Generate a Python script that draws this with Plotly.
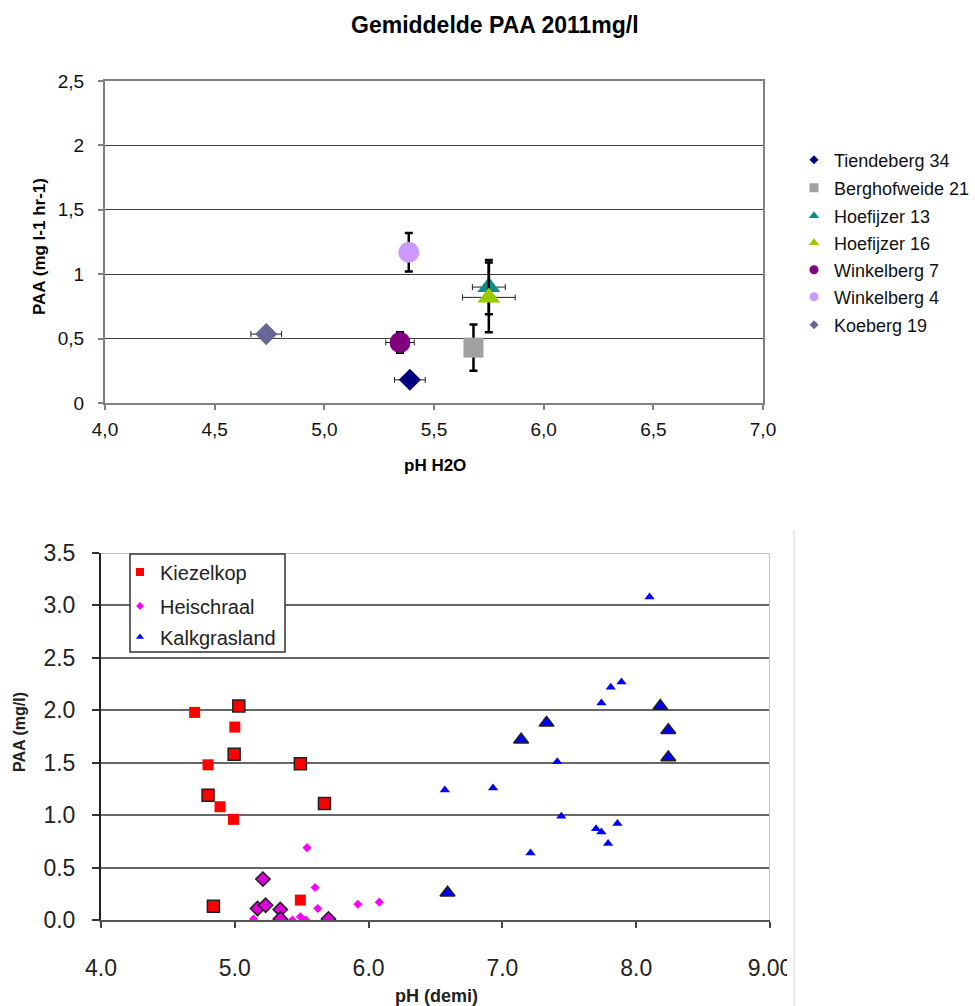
import plotly.graph_objects as go

W, H = 975, 1006

# ---------------- Top chart data: Gemiddelde PAA 2011 ----------------
sites = ["Tiendeberg 34", "Berghofweide 21", "Hoefijzer 13", "Hoefijzer 16",
         "Winkelberg 7", "Winkelberg 4", "Koeberg 19"]
ph_h2o = [5.39, 5.68, 5.75, 5.75, 5.345, 5.385, 4.735]
ph_h2o_err = [0.07, 0.02, 0.075, 0.12, 0.065, 0.02, 0.07]
paa_mean = [0.18, 0.43, 0.90, 0.82, 0.47, 1.17, 0.535]
paa_err = [0.03, 0.18, 0.21, 0.27, 0.08, 0.15, 0.02]

top_x_ticks = [4.0, 4.5, 5.0, 5.5, 6.0, 6.5, 7.0]
top_x_labels = ["4,0", "4,5", "5,0", "5,5", "6,0", "6,5", "7,0"]
top_y_ticks = [0, 0.5, 1.0, 1.5, 2.0, 2.5]
top_y_labels = ["0", "0,5", "1", "1,5", "2", "2,5"]

# ---------------- Bottom chart data: PAA vs pH (demi) ----------------
kiezelkop_x = [4.70, 5.00, 4.80, 4.89, 4.99, 5.49]
kiezelkop_y = [1.98, 1.84, 1.48, 1.08, 0.96, 0.19]
kiezelkop_outlined_x = [5.03, 4.995, 5.49, 4.80, 5.67, 4.84]
kiezelkop_outlined_y = [2.04, 1.58, 1.49, 1.19, 1.11, 0.13]

heischraal_x = [5.54, 5.60, 5.62, 5.92, 6.08, 5.14, 5.43, 5.49, 5.53]
heischraal_y = [0.69, 0.31, 0.11, 0.15, 0.17, 0.01, 0.00, 0.03, 0.00]
heischraal_outlined_x = [5.21, 5.17, 5.23, 5.34, 5.34, 5.70]
heischraal_outlined_y = [0.39, 0.11, 0.14, 0.10, 0.01, 0.01]

kalkgrasland_x = [8.10, 7.81, 7.89, 7.74, 7.41, 6.57, 6.93, 7.44, 7.70, 7.74, 7.86, 7.79, 7.21]
kalkgrasland_y = [3.08, 2.22, 2.27, 2.07, 1.51, 1.24, 1.26, 0.99, 0.87, 0.84, 0.92, 0.73, 0.64]
kalkgrasland_outlined_x = [8.18, 7.33, 7.14, 8.24, 8.24, 6.59]
kalkgrasland_outlined_y = [2.04, 1.88, 1.72, 1.81, 1.55, 0.26]

bot_x_ticks = [4, 5, 6, 7, 8, 9]
bot_x_labels = ["4.0", "5.0", "6.0", "7.0", "8.0", "9.00"]
bot_y_ticks = [0, 0.5, 1.0, 1.5, 2.0, 2.5, 3.0, 3.5]
bot_y_labels = ["0.0", "0.5", "1.0", "1.5", "2.0", "2.5", "3.0", "3.5"]

# ---------------- styling ----------------
FONT = "Liberation Sans, Arial, sans-serif"
site_colors = ["#000080", "#a0a0a0", "#0f8a8a", "#99cc00", "#800080", "#cc99ff", "#666699"]
site_symbols = ["diamond", "square", "triangle-up", "triangle-up", "circle", "circle", "diamond"]
site_sizes = [17, 20, 20, 20, 21, 21, 17]
legend_sizes = [7, 9, 9, 9, 9, 9, 7]
legend_rows_px = [160, 188, 216, 243, 270, 297, 325]


def px_x(p):
    return p / W


def px_y(p):
    return 1 - p / H


fig = go.Figure()
layout_legends = {}

for i, name in enumerate(sites):
    fig.add_trace(go.Scatter(
        x=[ph_h2o[i]], y=[paa_mean[i]], mode="markers", name=name,
        xaxis="x", yaxis="y", showlegend=False,
        marker=dict(symbol=site_symbols[i], size=site_sizes[i], color=site_colors[i],
                    line=dict(width=0)),
        error_y=dict(type="data", array=[paa_err[i]], color="#000000",
                     thickness=2.5, width=4),
        error_x=dict(type="data", array=[ph_h2o_err[i]], color="#202020",
                     thickness=1, width=3),
    ))
    key = "legend" if i == 0 else f"legend{i + 1}"
    fig.add_trace(go.Scatter(
        x=[None], y=[None], mode="markers", name=name, xaxis="x", yaxis="y",
        legend=key, showlegend=True,
        marker=dict(symbol=site_symbols[i], size=legend_sizes[i], color=site_colors[i]),
    ))
    layout_legends[key] = dict(
        x=px_x(794), xanchor="left", y=px_y(legend_rows_px[i]), yanchor="middle",
        font=dict(family=FONT, size=18, color="#111111"),
        bgcolor="rgba(0,0,0,0)", borderwidth=0, itemsizing="trace",
    )

# bottom chart
bottom_series = [
    ("Kiezelkop", kiezelkop_x, kiezelkop_y, kiezelkop_outlined_x, kiezelkop_outlined_y,
     "square", "#ff0000", "#ff0000", 11, 12, 8),
    ("Heischraal", heischraal_x, heischraal_y, heischraal_outlined_x, heischraal_outlined_y,
     "diamond", "#ff00ff", "#dd00dd", 7, 11, 6),
    ("Kalkgrasland", kalkgrasland_x, kalkgrasland_y, kalkgrasland_outlined_x, kalkgrasland_outlined_y,
     "triangle-up", "#0000ff", "#0000ff", 9, 13, 7),
]
bot_legend_rows_px = [572, 606, 637]
for j, (name, xs, ys, oxs, oys, sym, col, ocol, s_plain, s_out, s_leg) in enumerate(bottom_series):
    fig.add_trace(go.Scatter(
        x=oxs, y=oys, mode="markers", name=name, xaxis="x2", yaxis="y2", showlegend=False,
        marker=dict(symbol=sym, size=s_out, color=ocol, line=dict(width=1.5, color="#202020")),
    ))
    fig.add_trace(go.Scatter(
        x=xs, y=ys, mode="markers", name=name, xaxis="x2", yaxis="y2", showlegend=False,
        marker=dict(symbol=sym, size=s_plain, color=col, line=dict(width=0)),
    ))
    key = f"legend{8 + j}"
    fig.add_trace(go.Scatter(
        x=[None], y=[None], mode="markers", name=name, xaxis="x2", yaxis="y2",
        legend=key, showlegend=True,
        marker=dict(symbol=sym, size=s_leg, color=col),
    ))
    layout_legends[key] = dict(
        x=px_x(120), xanchor="left", y=px_y(bot_legend_rows_px[j]), yanchor="middle",
        font=dict(family=FONT, size=20, color="#222222"),
        bgcolor="rgba(0,0,0,0)", borderwidth=0, itemsizing="trace",
    )

fig.update_layout(
    width=W, height=H,
    margin=dict(l=0, r=0, t=0, b=0, pad=0, autoexpand=False),
    paper_bgcolor="white", plot_bgcolor="white",
    showlegend=True,
    font=dict(family=FONT, color="#111111"),
    xaxis=dict(
        domain=[px_x(105), px_x(763)], anchor="y", range=[4, 7],
        tickvals=top_x_ticks, ticktext=top_x_labels,
        tickfont=dict(size=19, color="#111111"),
        ticks="outside", ticklen=5, tickcolor="#808080", tickwidth=1.5,
        ticklabelstandoff=3,
        showline=True, mirror=True, linecolor="#808080", linewidth=2,
        showgrid=False, zeroline=False,
    ),
    yaxis=dict(
        domain=[px_y(403), px_y(81)], anchor="x", range=[0, 2.5],
        tickvals=top_y_ticks, ticktext=top_y_labels,
        tickfont=dict(size=19, color="#111111"),
        ticks="outside", ticklen=5, tickcolor="#808080", tickwidth=1.5,
        ticklabelstandoff=10,
        showline=True, mirror=True, linecolor="#808080", linewidth=2,
        showgrid=True, gridcolor="#404040", gridwidth=1, zeroline=False,
    ),
    xaxis2=dict(
        domain=[px_x(101), px_x(770)], anchor="y2", range=[4, 9],
        tickvals=bot_x_ticks, ticktext=bot_x_labels,
        tickfont=dict(size=23, color="#222222"),
        ticks="outside", ticklen=6, tickcolor="#444444", tickwidth=1.5,
        ticklabelstandoff=20,
        showline=True, linecolor="#555555", linewidth=2,
        showgrid=False, zeroline=False,
    ),
    yaxis2=dict(
        domain=[px_y(920), px_y(553)], anchor="x2", range=[0, 3.5],
        tickvals=bot_y_ticks, ticktext=bot_y_labels,
        tickfont=dict(size=23, color="#222222"),
        ticks="outside", ticklen=7, tickcolor="#333333", tickwidth=1.5,
        ticklabelstandoff=12,
        showline=True, linecolor="#222222", linewidth=2,
        showgrid=True, gridcolor="#666666", gridwidth=2, zeroline=False,
    ),
    **layout_legends,
)

# titles (real text)
fig.add_annotation(text="<b>Gemiddelde PAA 2011mg/l</b>", xref="paper", yref="paper",
                   x=px_x(495), y=px_y(25), xanchor="center", yanchor="middle",
                   showarrow=False, font=dict(family=FONT, size=23, color="#000000"))
fig.add_annotation(text="<b>PAA (mg l-1 hr-1)</b>", xref="paper", yref="paper",
                   x=px_x(40), y=px_y(247), xanchor="center", yanchor="middle", textangle=-90,
                   showarrow=False, font=dict(family=FONT, size=17, color="#000000"))
fig.add_annotation(text="<b>pH H2O</b>", xref="paper", yref="paper",
                   x=px_x(435), y=px_y(465), xanchor="center", yanchor="middle",
                   showarrow=False, font=dict(family=FONT, size=17, color="#000000"))
fig.add_annotation(text="<b>PAA (mg/l)</b>", xref="paper", yref="paper",
                   x=px_x(19), y=px_y(732), xanchor="center", yanchor="middle", textangle=-90,
                   showarrow=False, font=dict(family=FONT, size=16, color="#222222"))
fig.add_annotation(text="<b>pH (demi)</b>", xref="paper", yref="paper",
                   x=px_x(436), y=px_y(996), xanchor="center", yanchor="middle",
                   showarrow=False, font=dict(family=FONT, size=18, color="#222222"))

# bottom chart frame details, legend box, image edge
fig.add_shape(type="line", xref="x2", yref="y2", x0=4, x1=9, y0=3.5, y1=3.5,
              line=dict(color="#c4c4c4", width=2), layer="above")
fig.add_shape(type="line", xref="x2", yref="y2", x0=9, x1=9, y0=0, y1=3.5,
              line=dict(color="#c4c4c4", width=2), layer="above")
fig.add_shape(type="rect", xref="paper", yref="paper",
              x0=px_x(130), x1=px_x(285), y0=px_y(652), y1=px_y(554),
              line=dict(color="#333333", width=1.5), fillcolor="white", layer="above")
fig.add_shape(type="rect", xref="paper", yref="paper",
              x0=px_x(787), x1=1, y0=0, y1=px_y(930),
              line=dict(width=0), fillcolor="white", layer="above")
fig.add_shape(type="line", xref="paper", yref="paper",
              x0=px_x(794), x1=px_x(794), y0=0, y1=px_y(530),
              line=dict(color="#e2e2e2", width=1.5), layer="above")

fig.write_html("out.html")
